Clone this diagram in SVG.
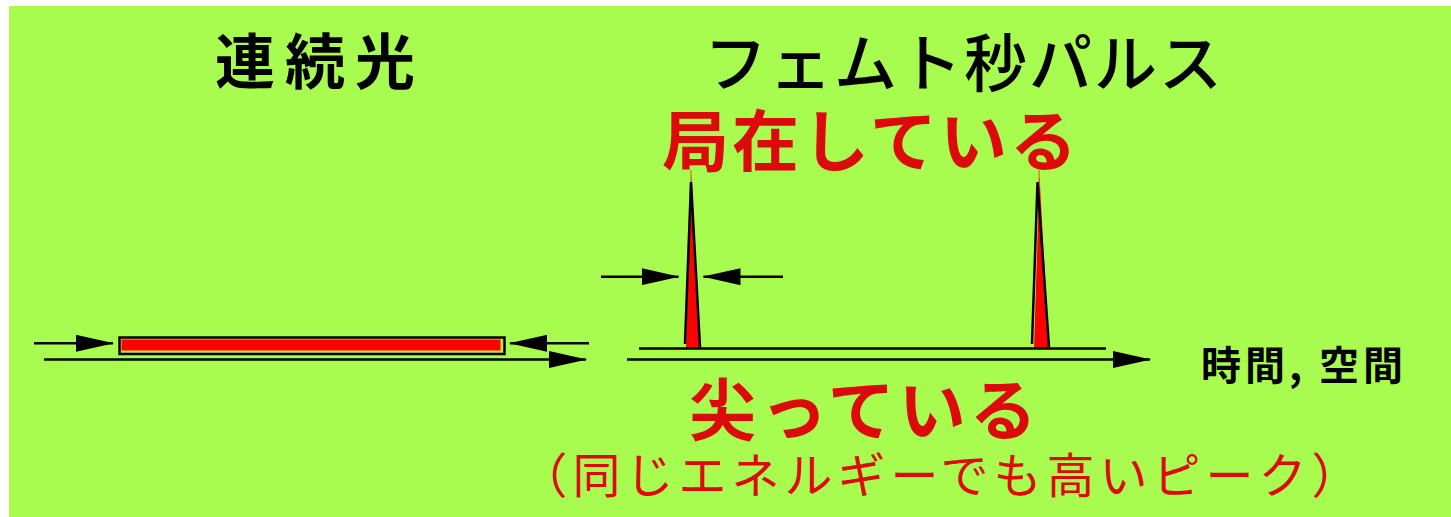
<svg xmlns="http://www.w3.org/2000/svg" width="1451" height="517" viewBox="0 0 1451 517">
<style>
.t{font-family:"Noto Sans CJK JP","Noto Sans",sans-serif}
.blk{fill:#000}
.red{fill:#dc0a0a}
.b{font-weight:bold}
.ln{stroke:#000;stroke-width:2.5;fill:none}
.ar{marker-end:url(#ah)}
</style>
<defs>
<marker id="ah" markerUnits="userSpaceOnUse" markerWidth="38" markerHeight="17" viewBox="0 0 38 17" refX="37" refY="8.5" orient="auto">
<path d="M0,0 L38,8.5 L0,17 Z" fill="#000"/>
</marker>
</defs>
<rect x="0" y="0" width="1451" height="517" fill="#fff"/>
<rect x="9" y="6" width="1442" height="511" fill="#a8fc50"/>

<g id="title-cw">
<text class="t blk b" x="320" y="84" font-size="60" letter-spacing="10" text-anchor="middle">連続光</text>
</g>
<g id="title-fs">
<text class="t blk" x="964" y="86" font-size="63" font-weight="500" letter-spacing="2" text-anchor="middle">フェムト秒パルス</text>
</g>
<g id="label-localized">
<text class="t red b" x="871" y="166" font-size="67" letter-spacing="3" text-anchor="middle">局在している</text>
</g>
<g id="label-sharp">
<text class="t red b" x="865" y="435" font-size="67" letter-spacing="4" text-anchor="middle">尖っている</text>
</g>
<g id="label-note">
<text class="t red" x="942" y="493" font-size="48" letter-spacing="5" text-anchor="middle">（同じエネルギーでも高いピーク）</text>
</g>
<g id="label-axis">
<text class="t blk b" x="1201" y="380" font-size="40" letter-spacing="4">時間, 空間</text>
</g>

<g id="cw-pulse">
<rect x="119.5" y="337.5" width="385" height="16.5" fill="#cfe03a" stroke="#000" stroke-width="2.5"/>
<rect x="121.5" y="339.5" width="379" height="11" fill="#ff0000"/>
</g>

<g id="pulse-1">
<line x1="691" y1="170" x2="691" y2="183" stroke="#e05010" stroke-width="1"/>
<polygon points="691.5,176 686,348 700.5,348" fill="#ff0000"/>
<polyline class="ln" points="685,344 691,182 700,347"/>
</g>
<g id="pulse-2">
<line x1="1039" y1="170" x2="1039" y2="183" stroke="#e05010" stroke-width="1"/>
<polygon points="1039.5,176 1034,348 1049,348" fill="#ff0000"/>
<polyline class="ln" points="1032,344 1037.5,182 1049,347"/>
</g>

<g id="connectors">
<line class="ln ar" x1="34" y1="343.3" x2="113" y2="343.3"/>
<line class="ln ar" x1="589" y1="343.3" x2="510" y2="343.3"/>
<line class="ln ar" x1="44" y1="359.5" x2="586" y2="359.5"/>
<line class="ln" x1="639" y1="348.5" x2="1106" y2="348.5"/>
<line class="ln ar" x1="627" y1="359.5" x2="1150" y2="359.5"/>
<line class="ln ar" x1="601" y1="276.7" x2="678.5" y2="276.7"/>
<line class="ln ar" x1="783" y1="276.7" x2="703.5" y2="276.7"/>
</g>
</svg>
